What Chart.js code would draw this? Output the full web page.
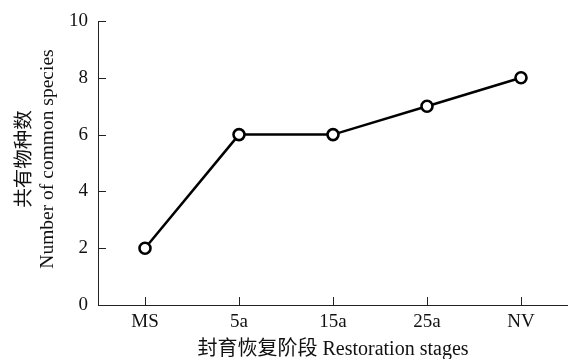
<!DOCTYPE html>
<html>
<head>
<meta charset="utf-8">
<script src="https://cdn.jsdelivr.net/npm/chart.js@4/dist/chart.umd.min.js"></script>
<style>
  html, body { margin: 0; padding: 0; background: #fff; }
  #c { display: block; }
</style>
</head>
<body>
<canvas id="c" width="568" height="359"></canvas>
<script>
// Restoration stages and shared species counts
const stages = ['MS', '5a', '15a', '25a', 'NV'];
const commonSpecies = [2, 6, 6, 7, 8];
const yTicks = [0, 2, 4, 6, 8, 10];

const yTitleLines = ['共有物种数', 'Number of common species'];
const xTitle = '封育恢复阶段 Restoration stages';

const FONT = "'Liberation Serif', 'Times New Roman', 'Noto Sans CJK SC', serif";
const INK = '#111';

// Inward tick marks plus the two axis titles
const axisDecor = {
  id: 'axisDecor',
  afterDraw(chart) {
    const ctx = chart.ctx;
    const x = chart.scales.x, y = chart.scales.y;
    const area = chart.chartArea;
    const len = 8;
    ctx.save();
    ctx.strokeStyle = '#222';
    ctx.lineWidth = 1;
    ctx.beginPath();
    y.ticks.forEach((t, i) => {
      const py = Math.round(y.getPixelForTick(i)) + 0.5;
      ctx.moveTo(area.left, py);
      ctx.lineTo(area.left + len, py);
    });
    x.ticks.forEach((t, i) => {
      const px = Math.round(x.getPixelForTick(i)) + 0.5;
      ctx.moveTo(px, area.bottom);
      ctx.lineTo(px, area.bottom - len);
    });
    ctx.stroke();

    ctx.fillStyle = INK;
    ctx.textAlign = 'center';
    ctx.textBaseline = 'middle';
    // y title: two rotated lines
    ctx.font = '19.5px ' + FONT;
    const cy = 159;
    ctx.save();
    ctx.translate(25, cy);
    ctx.rotate(-Math.PI / 2);
    ctx.fillText(yTitleLines[0], 0, 0);
    ctx.restore();
    ctx.save();
    ctx.translate(48, cy);
    ctx.rotate(-Math.PI / 2);
    ctx.fillText(yTitleLines[1], 0, 0);
    ctx.restore();
    // x title
    ctx.font = '20px ' + FONT;
    ctx.fillText(xTitle, (area.left + area.right) / 2, 350);
    ctx.restore();
  }
};

new Chart(document.getElementById('c'), {
  type: 'line',
  data: {
    labels: stages,
    datasets: [{
      data: commonSpecies,
      borderColor: '#000',
      borderWidth: 2.5,
      pointRadius: 5.5,
      pointBorderWidth: 2.6,
      pointBackgroundColor: '#fff',
      pointBorderColor: '#000',
      tension: 0,
      fill: false
    }]
  },
  options: {
    responsive: false,
    animation: false,
    devicePixelRatio: 1,
    layout: { autoPadding: false, padding: { top: 21, right: 0, left: 0, bottom: 0 } },
    plugins: {
      legend: { display: false },
      tooltip: { enabled: false }
    },
    scales: {
      x: {
        offset: true,
        grid: { display: true, drawOnChartArea: false, drawTicks: false },
        border: { display: true, color: '#222', width: 1 },
        ticks: { color: INK, font: { family: FONT, size: 19 }, padding: 6, maxRotation: 0 },
        afterFit(scale) {
          scale.height = 54;
          scale.paddingLeft = 0;
          scale.paddingRight = 0;
        }
      },
      y: {
        min: 0,
        max: 10,
        afterBuildTicks(scale) { scale.ticks = yTicks.map(v => ({ value: v })); },
        grid: { display: true, drawOnChartArea: false, drawTicks: false },
        border: { display: true, color: '#222', width: 1 },
        ticks: { color: INK, font: { family: FONT, size: 19 }, padding: 10 },
        afterFit(scale) {
          scale.width = 98;
          scale.paddingTop = 0;
          scale.paddingBottom = 0;
        }
      }
    }
  },
  plugins: [axisDecor]
});
</script>
</body>
</html>
